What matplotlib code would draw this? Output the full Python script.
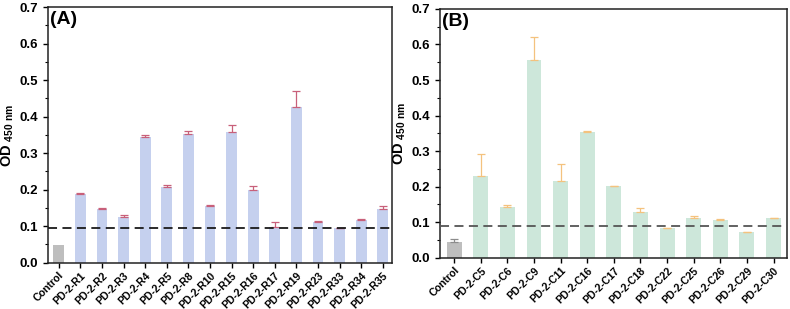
import matplotlib
matplotlib.use("Agg")
import matplotlib.pyplot as plt
from matplotlib.ticker import MultipleLocator

plt.rcParams['font.family'] = ['Liberation Sans', 'DejaVu Sans']
plt.rcParams['font.weight'] = 'bold'
plt.rcParams['mathtext.fontset'] = 'custom'
plt.rcParams['mathtext.rm'] = 'Liberation Sans'
plt.rcParams['mathtext.bf'] = 'Liberation Sans:bold'

cats_a = ["Control", "PD-2-R1", "PD-2-R2", "PD-2-R3", "PD-2-R4", "PD-2-R5", "PD-2-R8",
          "PD-2-R10", "PD-2-R15", "PD-2-R16", "PD-2-R17", "PD-2-R19", "PD-2-R23",
          "PD-2-R33", "PD-2-R34", "PD-2-R35"]
vals_a = [0.048, 0.189, 0.148, 0.125, 0.345, 0.207, 0.353, 0.156, 0.359, 0.200,
          0.099, 0.427, 0.111, 0.095, 0.116, 0.148]
errs_a = [0.0, 0.002, 0.001, 0.007, 0.005, 0.007, 0.008, 0.001, 0.018, 0.011,
          0.012, 0.043, 0.002, 0.001, 0.003, 0.008]
cut_a = 0.096

cats_b = ["Control", "PD-2-C5", "PD-2-C6", "PD-2-C9", "PD-2-C11", "PD-2-C16", "PD-2-C17",
          "PD-2-C18", "PD-2-C22", "PD-2-C25", "PD-2-C26", "PD-2-C29", "PD-2-C30"]
vals_b = [0.044, 0.231, 0.143, 0.556, 0.215, 0.355, 0.202, 0.129, 0.083, 0.112,
          0.106, 0.072, 0.111]
errs_b = [0.008, 0.062, 0.004, 0.065, 0.049, 0.001, 0.001, 0.012, 0.002, 0.004,
          0.002, 0.001, 0.001]
cut_b = 0.090

fig = plt.figure(figsize=(7.9, 3.09), dpi=100)
axA = fig.add_axes([0.0608, 0.1498, 0.4352, 0.8269])
axB = fig.add_axes([0.557, 0.166, 0.439, 0.805])


def draw(ax, cats, vals, errs, cut, color, ecolor, dcolor, label, width, xlim):
    x = list(range(len(cats)))
    colors = ["#BEBEBE"] + [color] * (len(cats) - 1)
    ecols = ["#8C8C8C"] + [ecolor] * (len(cats) - 1)
    ax.bar(x, vals, width=width, color=colors, zorder=2)
    for xi, v, e, ec in zip(x, vals, errs, ecols):
        if e > 0:
            ax.errorbar([xi], [v], yerr=[[0], [e]], fmt='none', ecolor=ec,
                        elinewidth=0.9, capsize=3, capthick=0.9, zorder=3)
    ax.axhline(cut, color=dcolor, linestyle=(0, (5, 3)), linewidth=1.3, zorder=4)
    ax.set_ylim(0, 0.7)
    ax.set_xlim(*xlim)
    ax.yaxis.set_minor_locator(MultipleLocator(0.05))
    ax.set_yticks([0, 0.1, 0.2, 0.3, 0.4, 0.5, 0.6, 0.7])
    ax.set_yticklabels(["0.0", "0.1", "0.2", "0.3", "0.4", "0.5", "0.6", "0.7"],
                       fontsize=9.5, fontweight='bold')
    ax.set_xticks(x)
    ax.set_xticklabels(cats, rotation=45, ha='right', rotation_mode='anchor',
                       fontsize=7.6, fontweight='bold')
    ax.tick_params(axis='both', which='major', direction='out', length=3.5, width=1)
    ax.tick_params(axis='y', which='minor', direction='out', length=2, width=0.8)
    ax.tick_params(axis='x', pad=2)
    for s in ax.spines.values():
        s.set_linewidth(1.1)
        s.set_color("#222222")
    ax.set_ylabel(r"$\mathbf{OD}_{\mathrm{\ 450\ nm}}$", fontsize=10.5, labelpad=3)
    ax.text(0.005, 0.985, label, transform=ax.transAxes, ha='left', va='top',
            fontsize=14, fontweight='bold')


draw(axA, cats_a, vals_a, errs_a, cut_a, "#C5D0EE", "#C8607A", "#1A1A1A", "(A)", 0.5,
     (-0.5, 15.42))
draw(axB, cats_b, vals_b, errs_b, cut_b, "#CDE7DA", "#F4C27E", "#555555", "(B)", 0.56,
     (-0.53, 12.5))

fig.savefig("out.png", dpi=100)
